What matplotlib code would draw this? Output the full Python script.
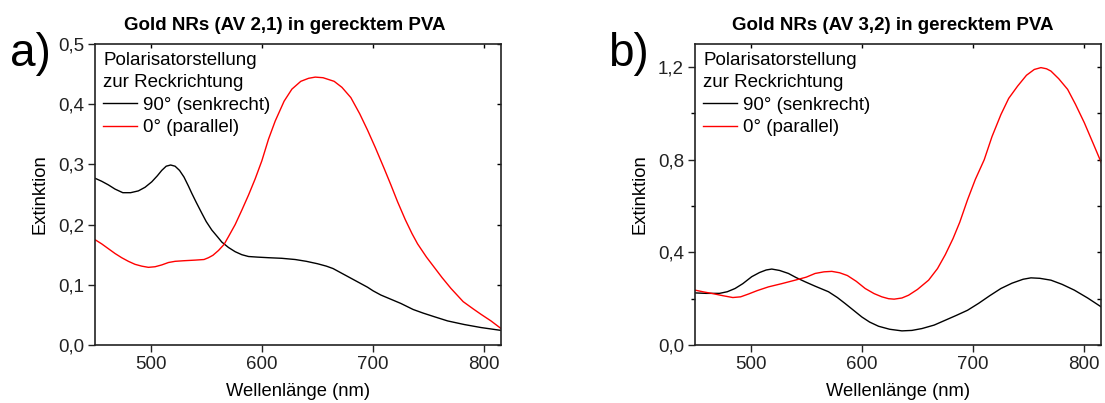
import matplotlib
matplotlib.use("Agg")
import matplotlib.pyplot as plt
from matplotlib.ticker import MultipleLocator, FuncFormatter

plt.rcParams['font.family'] = ['Liberation Sans', 'DejaVu Sans']

# ---------------- Data ----------------
# Panel a: Gold NRs (AV 2,1)
a_wl_90 = [450, 456, 462, 468, 475, 482, 489, 495, 501, 506, 510, 514, 518, 522, 526, 530,
           534, 537, 541, 546, 550, 555, 560, 564, 570, 576, 582, 588, 596, 606, 618, 630,
           640, 650, 658, 664, 672, 680, 688, 695, 700, 707, 716, 725, 736, 745, 755, 767,
           782, 797, 816]
a_ext_90 = [0.277, 0.272, 0.266, 0.259, 0.253, 0.253, 0.256, 0.262, 0.271, 0.281, 0.290,
            0.297, 0.299, 0.297, 0.290, 0.279, 0.264, 0.252, 0.237, 0.219, 0.205, 0.191,
            0.180, 0.171, 0.162, 0.155, 0.150, 0.147, 0.146, 0.145, 0.144, 0.142, 0.139,
            0.135, 0.131, 0.127, 0.119, 0.111, 0.103, 0.096, 0.090, 0.083, 0.076, 0.069,
            0.059, 0.053, 0.047, 0.040, 0.034, 0.029, 0.024]
a_wl_0 = [450, 456, 462, 468, 474, 480, 486, 492, 498, 504, 510, 516, 522, 530, 540, 548,
          552, 556, 561, 566, 570, 576, 582, 588, 594, 600, 606, 612, 620, 627, 635, 642,
          648, 655, 665, 672, 680, 688, 695, 702, 710, 716, 722, 729, 735, 740, 748, 755,
          762, 770, 781, 790, 797, 806, 816]
a_ext_0 = [0.175, 0.168, 0.160, 0.152, 0.145, 0.139, 0.134, 0.131, 0.129, 0.130, 0.133,
           0.137, 0.139, 0.140, 0.141, 0.142, 0.145, 0.149, 0.157, 0.167, 0.180, 0.200,
           0.224, 0.249, 0.276, 0.306, 0.342, 0.372, 0.405, 0.425, 0.438, 0.443, 0.445,
           0.444, 0.438, 0.428, 0.411, 0.384, 0.357, 0.328, 0.293, 0.266, 0.238, 0.208,
           0.185, 0.168, 0.146, 0.129, 0.112, 0.094, 0.072, 0.060, 0.051, 0.040, 0.026]

# Panel b: Gold NRs (AV 3,2)
b_wl_90 = [450, 460, 472, 479, 486, 493, 501, 508, 514, 519, 526, 534, 541, 549, 558, 570,
           578, 585, 592, 600, 607, 615, 625, 636, 645, 654, 665, 675, 685, 695, 705, 715,
           725, 735, 745, 752, 760, 770, 780, 791, 803, 816]
b_ext_90 = [0.225, 0.223, 0.223, 0.230, 0.244, 0.265, 0.295, 0.313, 0.324, 0.328, 0.322,
            0.309, 0.291, 0.273, 0.254, 0.230, 0.205, 0.179, 0.152, 0.121, 0.099, 0.081,
            0.068, 0.061, 0.063, 0.071, 0.086, 0.107, 0.128, 0.150, 0.180, 0.213, 0.244,
            0.267, 0.284, 0.290, 0.288, 0.280, 0.262, 0.237, 0.203, 0.162]
b_wl_0 = [450, 458, 465, 475, 484, 491, 498, 506, 516, 528, 540, 550, 558, 566, 573, 580,
          587, 595, 603, 611, 618, 624, 629, 636, 642, 650, 660, 668, 675, 682, 688, 695,
          702, 710, 717, 725, 732, 740, 748, 755, 761, 766, 770, 777, 785, 792, 800, 808, 816]
b_ext_0 = [0.237, 0.229, 0.223, 0.213, 0.205, 0.208, 0.220, 0.235, 0.251, 0.265, 0.280,
           0.293, 0.309, 0.316, 0.318, 0.312, 0.300, 0.275, 0.244, 0.222, 0.208, 0.200,
           0.198, 0.203, 0.215, 0.240, 0.280, 0.330, 0.390, 0.460, 0.530, 0.627, 0.715,
           0.800, 0.900, 0.995, 1.065, 1.118, 1.165, 1.190, 1.198, 1.193, 1.183, 1.150,
           1.104, 1.040, 0.960, 0.870, 0.779]

titles = ["Gold NRs (AV 2,1) in gerecktem PVA", "Gold NRs (AV 3,2) in gerecktem PVA"]
panel_labels = ["a)", "b)"]
legend_title = "Polarisatorstellung\nzur Reckrichtung"
series_labels = ["90° (senkrecht)", "0° (parallel)"]
xlabel = "Wellenlänge (nm)"
ylabel = "Extinktion"

# ---------------- Figure ----------------
fig = plt.figure(figsize=(11.05, 4.03), dpi=100)
W, H = 1105, 403
axA = fig.add_axes([95 / W, (H - 345) / H, 406 / W, 301 / H])
axB = fig.add_axes([695 / W, (H - 345) / H, 406 / W, 301 / H])

comma = FuncFormatter(lambda v, p: f"{v:.1f}".replace(".", ","))

panels = [
    (axA, a_wl_90, a_ext_90, a_wl_0, a_ext_0, (0, 0.5), 0.1, None, 0.1, 0.468),
    (axB, b_wl_90, b_ext_90, b_wl_0, b_ext_0, (0, 1.3), 0.4, 0.2, 0.2, 0.486),
]

for i, (ax, x90, y90, x0, y0, ylim, ymaj, ymin, yright, tx) in enumerate(panels):
    ax.plot(x90, y90, color="black", lw=1.0, label=series_labels[0])
    ax.plot(x0, y0, color="red", lw=1.0, label=series_labels[1])
    ax.set_xlim(450, 815)
    ax.set_ylim(*ylim)
    ax.xaxis.set_major_locator(MultipleLocator(100))
    ax.yaxis.set_major_locator(MultipleLocator(ymaj))
    if ymin:
        ax.yaxis.set_minor_locator(MultipleLocator(ymin))
    ax.yaxis.set_major_formatter(comma)
    ax.tick_params(axis="both", which="major", direction="out", length=5, width=1.0,
                   labelsize=13.5, pad=3, colors="#222222")
    ax.tick_params(axis="y", which="minor", direction="out", length=3, width=1.0)
    for s in ax.spines.values():
        s.set_linewidth(1.2)
        s.set_color("#222222")
    # mirrored inner ticks on top and right
    top = ax.secondary_xaxis("top")
    top.xaxis.set_major_locator(MultipleLocator(100))
    top.tick_params(direction="in", length=3, width=1.0, labeltop=False)
    top.spines["top"].set_visible(False)
    right = ax.secondary_yaxis("right")
    right.yaxis.set_major_locator(MultipleLocator(yright))
    right.tick_params(direction="in", length=3, width=1.0, labelright=False)
    right.spines["right"].set_visible(False)

    ax.set_xlabel(xlabel, fontsize=13.2, labelpad=7)
    ax.set_ylabel(ylabel, fontsize=13.2, labelpad=7)
    ax.set_title(titles[i], fontsize=13.5, fontweight="bold", pad=10, x=tx)
    leg = ax.legend(title=legend_title, loc="upper left", frameon=False, fontsize=13.5,
                    title_fontproperties={"size": 13.5}, alignment="left",
                    handlelength=1.8, handletextpad=0.3, labelspacing=0.3,
                    borderaxespad=0.25, borderpad=0.2)
    leg.get_title().set_linespacing(1.35)
    leg._legend_box.sep = 4

fig.text(10 / W, 1 - 54 / H, panel_labels[0], fontsize=33, va="center", ha="left")
fig.text(608 / W, 1 - 54 / H, panel_labels[1], fontsize=33, va="center", ha="left")

fig.savefig("out.png", dpi=100)
